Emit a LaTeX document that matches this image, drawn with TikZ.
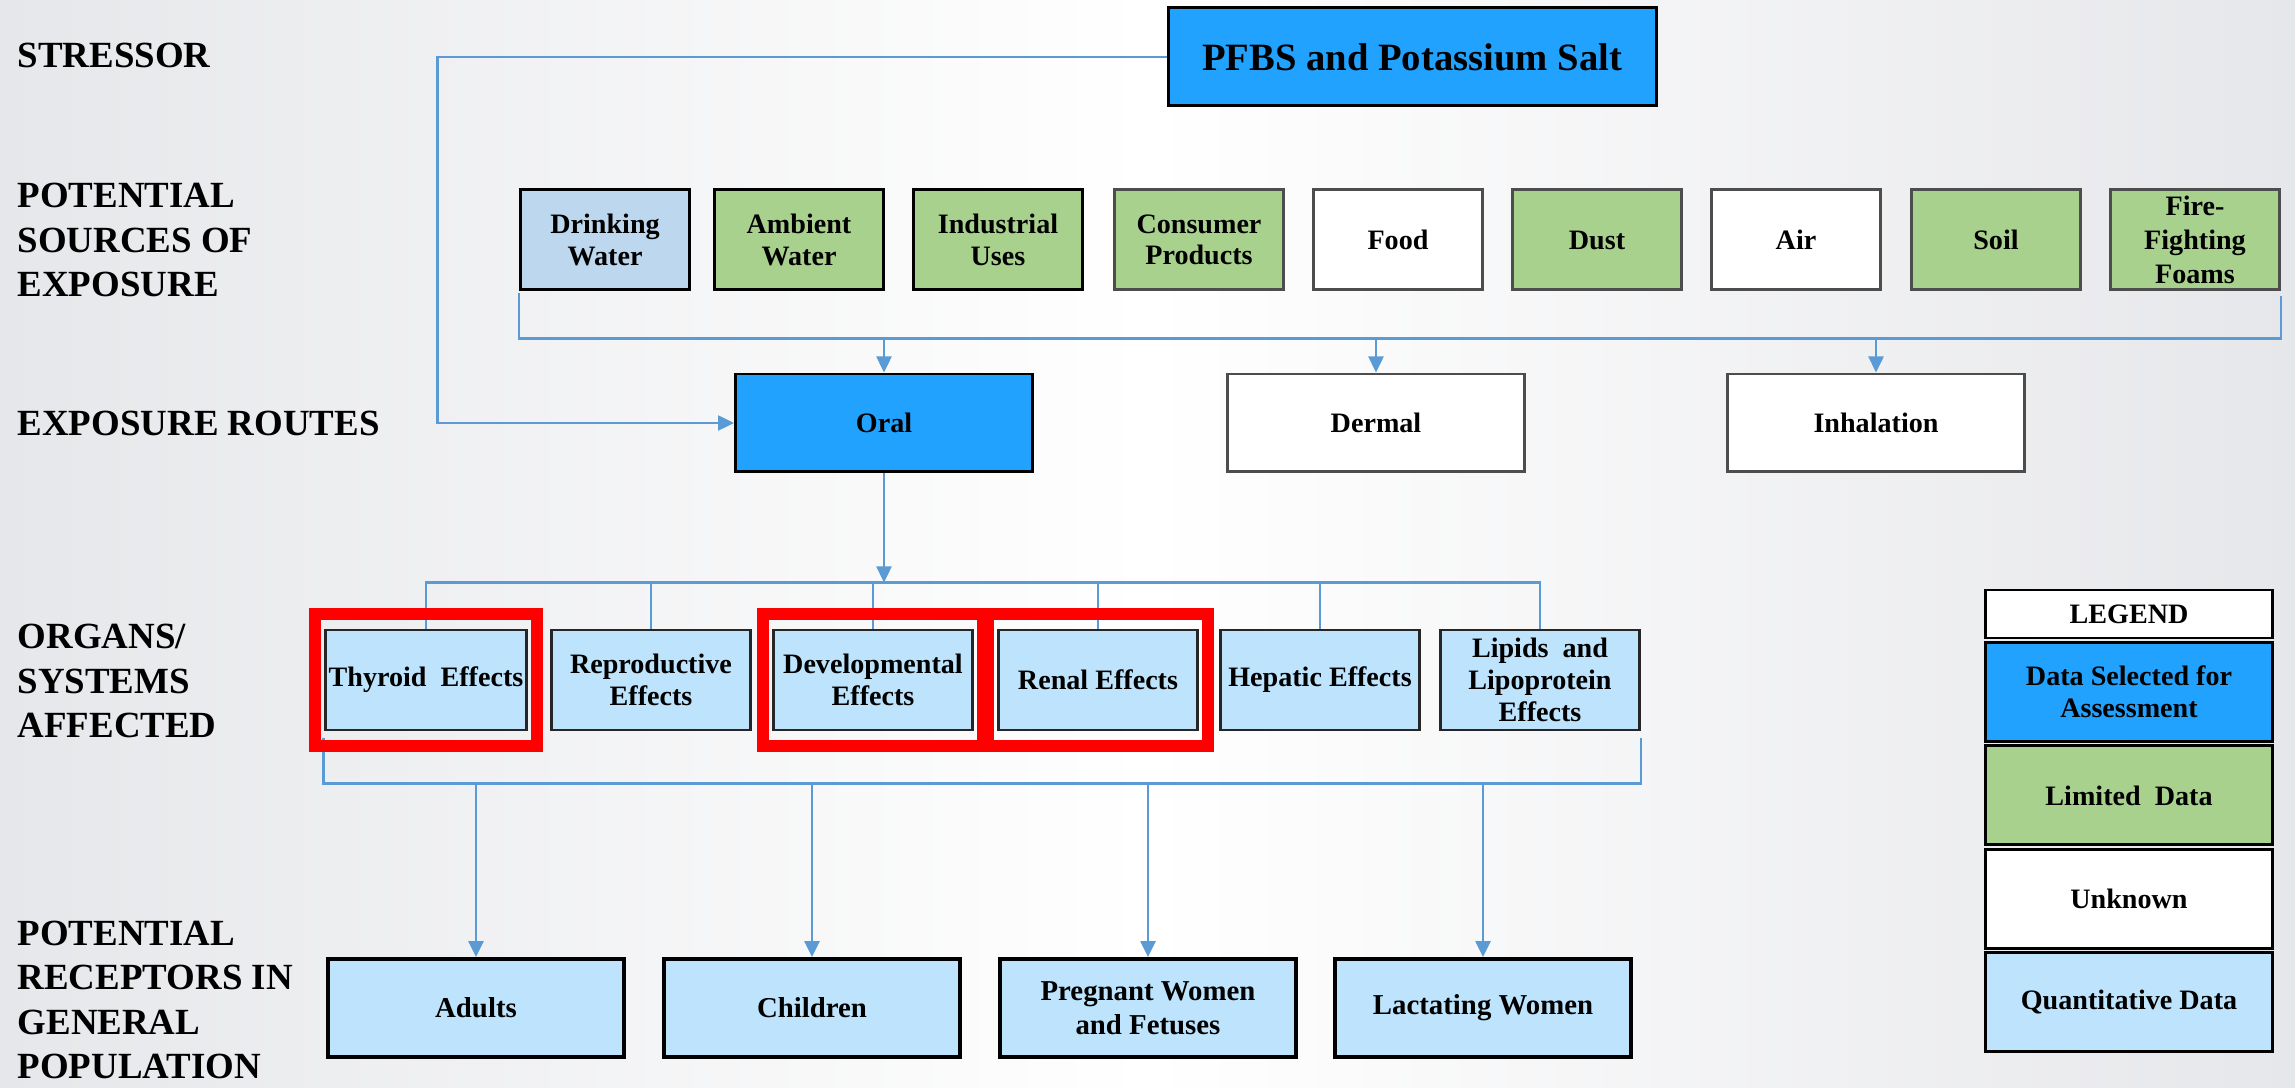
\documentclass[tikz,border=0pt]{standalone}
\usepackage{fontspec}
\setmainfont{Liberation Serif}
\usetikzlibrary{positioning,arrows.meta,fit}

\definecolor{selblue}{HTML}{22A2FF}
\definecolor{limgreen}{HTML}{A9D18E}
\definecolor{dwblue}{HTML}{BDD7EE}
\definecolor{quant}{HTML}{BDE4FC}
\definecolor{linkblue}{HTML}{5B9BD5}
\definecolor{edgegray}{HTML}{4D4D4D}
\definecolor{bggray}{HTML}{E6E7EA}

\tikzset{
  box/.style={draw=black,line width=0.85pt,align=center,inner sep=1pt,
    font=\bfseries\fontsize{8}{9}\selectfont},
  src/.style={box,minimum width=16.9mm,minimum height=10mm},
  route/.style={box,minimum width=29.7mm,minimum height=9.8mm},
  organ/.style={box,draw=black!85,fill=quant,minimum width=19.9mm,minimum height=10mm},
  recep/.style={box,fill=quant,line width=1.1pt,minimum width=29.6mm,minimum height=9.8mm,
    font=\bfseries\fontsize{8.2}{9.6}\selectfont},
  legrow/.style={box,minimum width=28.7mm,minimum height=9.9mm},
  hilite/.style={draw=red,line width=1.2mm,inner xsep=0.9mm,inner ysep=1.5mm},
  lbl/.style={anchor=west,align=left,inner sep=0pt,font=\bfseries\fontsize{10.5}{12.7}\selectfont},
  link/.style={draw=linkblue,line width=0.7pt},
  arr/.style={link,-{Triangle[length=1.6mm,width=1.5mm]}}
}

\begin{document}
\begin{tikzpicture}[x=0.1mm,y=-0.1mm]
\useasboundingbox (0,0) rectangle (2295,1088);
\shade[left color=bggray,right color=bggray,middle color=white] (0,0) rectangle (2295,1088);
% row labels
\node[lbl] (lstr) at (17,55) {STRESSOR};
\node[lbl] (lsrc) at (17,240) {POTENTIAL\\SOURCES OF\\EXPOSURE};
\node[lbl] (lrte) at (17,423) {EXPOSURE ROUTES};
\node[lbl] (lorg) at (17,681) {ORGANS/\\SYSTEMS\\AFFECTED};
\node[lbl] (lrec) at (17,1000) {POTENTIAL\\RECEPTORS IN\\GENERAL\\POPULATION};
% stressor
\node[box,fill=selblue,minimum width=48.8mm,minimum height=9.8mm,
  font=\bfseries\fontsize{11}{13}\selectfont] (pfbs) at (1412,57) {PFBS and Potassium Salt};
% sources
\node[src,fill=dwblue] (dw) at (605,240) {Drinking\\Water};
\node[src,fill=limgreen] (amb) at (799,240) {Ambient\\Water};
\node[src,fill=limgreen] (ind) at (998,240) {Industrial\\Uses};
\node[src,fill=limgreen,draw=edgegray] (con) at (1199,240) {Consumer\\Products};
\node[src,fill=white,draw=edgegray] (food) at (1398,240) {Food};
\node[src,fill=limgreen,draw=edgegray] (dust) at (1597,240) {Dust};
\node[src,fill=white,draw=edgegray] (air) at (1796,240) {Air};
\node[src,fill=limgreen,draw=edgegray] (soil) at (1996,240) {Soil};
\node[src,fill=limgreen,draw=edgegray,font=\bfseries\fontsize{8}{9.6}\selectfont] (fire) at (2195,240) {Fire-\\Fighting\\Foams};
% routes
\node[route,fill=selblue] (oral) at (884,423) {Oral};
\node[route,fill=white,draw=edgegray] (derm) at (1376,423) {Dermal};
\node[route,fill=white,draw=edgegray] (inh) at (1876,423) {Inhalation};
% organs
\node[organ] (thy) at (426,680) {Thyroid\ \ Effects};
\node[organ] (rep) at (651,680) {Reproductive\\Effects};
\node[organ] (dev) at (873,680) {Developmental\\Effects};
\node[organ] (ren) at (1098,680) {Renal Effects};
\node[organ] (hep) at (1320,680) {Hepatic Effects};
\node[organ] (lip) at (1540,680) {Lipids\ \ and\\Lipoprotein\\Effects};
% receptors
\node[recep] (adu) at (476,1008) {Adults};
\node[recep] (chi) at (812,1008) {Children};
\node[recep] (pre) at (1148,1008) {Pregnant Women\\and Fetuses};
\node[recep] (lac) at (1483,1008) {Lactating Women};
% legend
\node[legrow,fill=white,minimum height=4.8mm] (leg) at (2129,614) {LEGEND};
\node[legrow,fill=selblue,below=0.15mm of leg] (legsel) {Data Selected for\\Assessment};
\node[legrow,fill=limgreen,below=0.15mm of legsel] (leglim) {Limited\ \ Data};
\node[legrow,fill=white,below=0.15mm of leglim] (legunk) {Unknown};
\node[legrow,fill=quant,below=0.15mm of legunk] (legqua) {Quantitative Data};
% stressor -> oral
\draw[arr] (pfbs.west) -- ++(-729,0) |- (oral.west);
% sources -> routes
\draw[link] ([yshift=-0.2mm]dw.south west) -- ++(0,45) coordinate (srcbus) -| ([yshift=-0.5mm]fire.south east);
\foreach \r in {oral,derm,inh} \draw[arr] (srcbus -| \r.north) -- (\r.north);
% oral -> organs
\path (oral.south) ++(0,109) coordinate (orgtop);
\draw[arr] (oral.south) -- (orgtop);
\draw[link] (thy.north) |- (orgtop) -| (lip.north);
\foreach \o in {rep,dev,ren,hep} \draw[link] (orgtop -| \o.north) -- (\o.north);
% organs -> receptors
\draw[link] ([yshift=-0.7mm]thy.south west) -- ++(0,45) coordinate (recbus) -| ([yshift=-0.7mm]lip.south east);
\foreach \r in {adu,chi,pre,lac} \draw[arr] (recbus -| \r.north) -- (\r.north);
% red frames
\node[hilite,fit=(thy)] (hthy) {};
\node[hilite,fit=(dev)] (hdev) {};
\node[hilite,fit=(ren)] (hren) {};
\end{tikzpicture}
\end{document}
